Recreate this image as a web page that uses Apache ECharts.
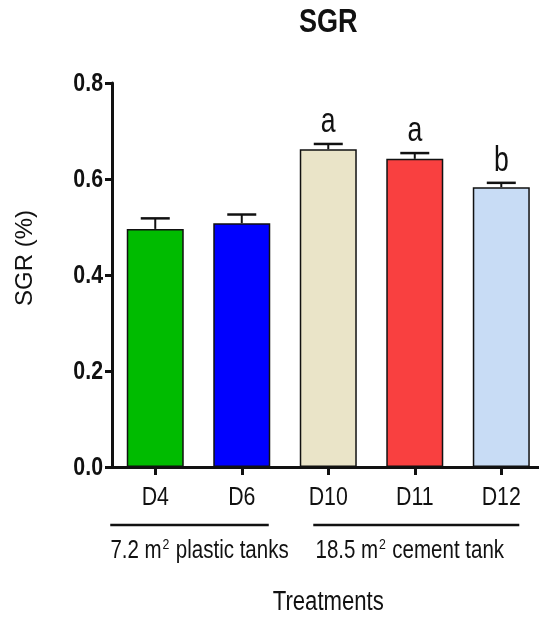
<!DOCTYPE html>
<html>
<head>
<meta charset="utf-8">
<script src="https://cdn.jsdelivr.net/npm/echarts@6/dist/echarts.min.js"></script>
<style>
  html, body { margin: 0; padding: 0; background: #fff; }
  #chart { width: 539px; height: 618px; }
</style>
</head>
<body>
<div id="chart"></div>
<script>
// Specific growth rate by treatment (mean ± SEM)
const categories = ['D4', 'D6', 'D10', 'D11', 'D12'];
const sgrMean = [0.496, 0.508, 0.662, 0.642, 0.583];
const sgrSem = [0.022, 0.018, 0.011, 0.012, 0.009];
const sigLetters = ['', '', 'a', 'a', 'b'];
const barColors = ['#00BB00', '#0000FF', '#EAE4C8', '#F94040', '#C8DCF5'];
const yTicks = [0, 0.2, 0.4, 0.6, 0.8];
const groups = [
  { from: 'D4', to: 'D6', label: ['7.2 m', '2', ' plastic tanks'] },
  { from: 'D10', to: 'D12', label: ['18.5 m', '2', ' cement tank'] }
];

const FONT = '"Liberation Sans", Arial, sans-serif';
const INK = '#111';
const NARROW = 0.82;           // horizontal squeeze for the condensed lettering

// each treatment sits in the middle of its unit slot on the x scale
const slot = i => i + 0.5;
const xCenters = categories.map((c, i) => slot(i));

const chart = echarts.init(document.getElementById('chart'), null, { renderer: 'canvas' });

chart.setOption({
  backgroundColor: '#fff',
  animation: false,
  grid: { left: 112, top: 83, right: 0, height: 384, containLabel: false },
  xAxis: {
    type: 'value',
    min: 0,
    max: 4.936,
    splitLine: { show: false },
    axisLine: { show: true, onZero: false, lineStyle: { color: INK, width: 3 } },
    axisTick: { show: true, customValues: xCenters, length: 8, lineStyle: { color: INK, width: 3 } },
    axisLabel: { show: false }
  },
  yAxis: {
    type: 'value',
    min: yTicks[0],
    max: yTicks[yTicks.length - 1],
    interval: 0.2,
    splitLine: { show: false },
    axisLine: { show: true, lineStyle: { color: INK, width: 3 } },
    axisTick: { show: true, length: 7, lineStyle: { color: INK, width: 3 } },
    axisLabel: { show: false }
  },
  series: [
    {
      type: 'bar',
      barWidth: 57,
      z: 2,
      data: sgrMean.map((v, i) => ({
        value: [slot(i), v],
        itemStyle: { color: barColors[i], borderColor: INK, borderWidth: 1.5 }
      }))
    },
    {
      // upper error bar with significance letter
      type: 'custom',
      z: 3,
      data: sgrMean.map((v, i) => [slot(i), v, v + sgrSem[i]]),
      renderItem: (params, api) => {
        const base = api.coord([api.value(0), api.value(1)]);
        const top = api.coord([api.value(0), api.value(2)]);
        const capHalf = 14.5;
        const children = [
          { type: 'line', shape: { x1: base[0], y1: base[1], x2: top[0], y2: top[1] },
            style: { stroke: INK, lineWidth: 2 } },
          { type: 'line', shape: { x1: top[0] - capHalf, y1: top[1], x2: top[0] + capHalf, y2: top[1] },
            style: { stroke: INK, lineWidth: 2.5 } }
        ];
        const letter = sigLetters[params.dataIndex];
        if (letter) {
          children.push({
            type: 'text',
            x: top[0], y: top[1] - 4,
            scaleX: 0.76,
            style: {
              text: letter, x: 0, y: 0,
              textAlign: 'center', textVerticalAlign: 'bottom',
              fontFamily: FONT, fontSize: 35, fill: INK
            }
          });
        }
        return { type: 'group', children };
      }
    }
  ]
});

// Lettering: tick labels, titles and treatment groups
const xPx = v => chart.convertToPixel({ xAxisIndex: 0 }, v);
const yPx = v => chart.convertToPixel({ yAxisIndex: 0 }, v);
const axisX = xPx(0);
const axisY = yPx(0);
const plotMid = (axisX + xPx(5)) / 2;

function label(text, x, y, size, opts) {
  const o = opts || {};
  return {
    type: 'text', x, y,
    scaleX: o.scaleX == null ? NARROW : o.scaleX,
    rotation: o.rotation || 0,
    style: {
      text, x: 0, y: 0,
      align: o.align || 'center', verticalAlign: 'middle',
      fontFamily: FONT, fontSize: size, fontWeight: o.bold ? 'bold' : 'normal',
      fill: INK, rich: o.rich
    }
  };
}

const graphics = [];

// title
graphics.push(label('SGR', plotMid, 23, 33, { bold: true }));

// y tick labels
yTicks.forEach(v => {
  graphics.push(label(v.toFixed(1), axisX - 9, yPx(v) + 1, 26, { bold: true, align: 'right' }));
});

// y axis title
graphics.push(label('SGR (%)', 25, 258, 24, { scaleX: 1, rotation: Math.PI / 2 }));

// category labels
categories.forEach((c, i) => {
  graphics.push(label(c, xPx(slot(i)), axisY + 31, 26));
});

// treatment groups: bracket line and caption
const idx = c => categories.indexOf(c);
const lineY = axisY + 58;
const captionY = axisY + 84;
const spans = [
  { x1: xPx(slot(idx('D4'))) - 45, x2: xPx(slot(idx('D6'))) + 27,
    cx: (xPx(slot(idx('D4'))) + xPx(slot(idx('D6')))) / 2 + 1 },
  { x1: xPx(slot(idx('D10'))) - 15, x2: xPx(slot(idx('D12'))) + 18,
    cx: xPx(slot(idx('D11'))) - 5 }
];
groups.forEach((g, i) => {
  const s = spans[i];
  graphics.push({
    type: 'line',
    shape: { x1: s.x1, y1: lineY, x2: s.x2, y2: lineY },
    style: { stroke: INK, lineWidth: 2.5 }
  });
  graphics.push(label('{t|' + g.label[0] + '}{s|' + g.label[1] + '}{t|' + g.label[2] + '}',
    s.cx, captionY, 25, {
      rich: {
        t: { fontFamily: FONT, fontSize: 25, fill: INK, color: INK },
        s: { fontFamily: FONT, fontSize: 15, fill: INK, color: INK, verticalAlign: 'top', padding: [0, 1, 13, 1] }
      }
    }));
});

// x axis title
graphics.push(label('Treatments', plotMid, 603, 27));

chart.setOption({ graphic: graphics });
</script>
</body>
</html>
